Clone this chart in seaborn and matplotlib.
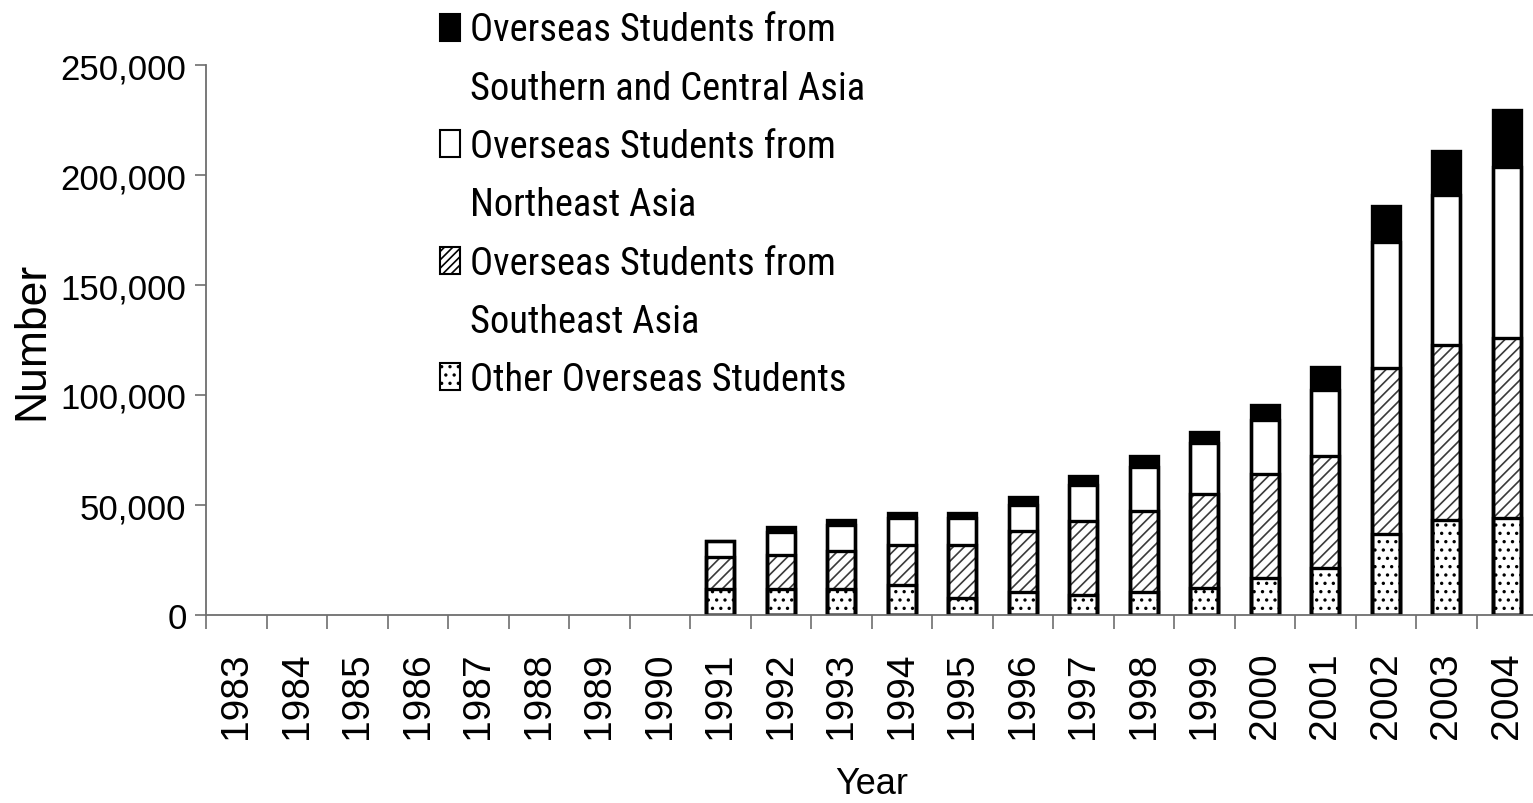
import matplotlib
matplotlib.use("Agg")
import matplotlib.pyplot as plt
from matplotlib import font_manager
from matplotlib.font_manager import FontProperties
from matplotlib.patches import Patch
from matplotlib.ticker import FuncFormatter, FixedLocator
import numpy as np
import seaborn as sns

# Years on the category axis (no data before 1991)
years = [str(y) for y in range(1983, 2005)]
data_years = [str(y) for y in range(1991, 2005)]

# Overseas student numbers by region of origin, 1991-2004
other = [11900, 11900, 11900, 13700, 7800, 10500, 9100, 10500, 12300, 16900, 21400, 37000, 43300, 44300]
southeast = [14600, 15500, 17300, 18200, 24100, 27800, 33800, 36900, 42900, 47000, 51100, 75200, 79400, 81600]
northeast = [7300, 10500, 11900, 12400, 12400, 11900, 16400, 20100, 22800, 24600, 29700, 57500, 68400, 77600]
south_central = [0, 2200, 2200, 2200, 2200, 3600, 4100, 5000, 5000, 6800, 10500, 16400, 19700, 26000]

labels = [
    "Overseas Students from\nSouthern and Central Asia",
    "Overseas Students from\nNortheast Asia",
    "Overseas Students from\nSoutheast Asia",
    "Other Overseas Students",
]

sns.set_style("white")
installed = sorted({f.name for f in font_manager.fontManager.ttflist})
base_font = "Liberation Sans" if "Liberation Sans" in installed else "DejaVu Sans"
preferred = ["Liberation Sans Narrow", "Arial Narrow", "Roboto Condensed",
             "Noto Sans Condensed", "Open Sans Condensed"]
narrow = [n for n in preferred if n in installed]
if not narrow:
    narrow = [n for n in installed if "Narrow" in n or n.endswith(" Condensed")]
legend_font = narrow[0] if narrow else base_font

plt.rcParams["font.family"] = [base_font, "DejaVu Sans"]
plt.rcParams["text.color"] = "black"
plt.rcParams["axes.labelcolor"] = "black"
plt.rcParams["hatch.linewidth"] = 1.2

W, H, DPI = 1533, 804, 100
fig = plt.figure(figsize=(W / DPI, H / DPI), dpi=DPI)
ax = fig.add_axes([206 / W, 188 / H, 1331 / W, 550 / H])

# Stack cumulative heights
c1 = np.array(other)
c2 = c1 + np.array(southeast)
c3 = c2 + np.array(northeast)
c4 = c3 + np.array(south_central)

bar_w = 0.46
layers = [
    (c4, "black", None, "black"),
    (c3, "white", None, "white"),
    (c2, "white", "///", "#3a3a3a"),
    (c1, "white", "..", "black"),
]
for vals, face, hatch, hcol in layers:
    sns.barplot(x=data_years, y=vals, order=years, color=face, saturation=1,
                width=bar_w, errorbar=None, ax=ax, linewidth=0,
                edgecolor=hcol, hatch=hatch)

# Segment outlines
for vals in (c4, c3, c2, c1):
    sns.barplot(x=data_years, y=vals, order=years, color="black", saturation=1,
                width=bar_w, errorbar=None, ax=ax, fill=False, linewidth=2.4)

ax.set_xlim(-0.5, len(years) - 0.5)
ax.set_ylim(0, 250000)
ax.set_yticks(np.arange(0, 250001, 50000))
ax.yaxis.set_major_formatter(FuncFormatter(lambda v, p: f"{int(v):,}"))

for s in ("top", "right"):
    ax.spines[s].set_visible(False)
for s in ("left", "bottom"):
    ax.spines[s].set_color("#6e6e6e")
    ax.spines[s].set_linewidth(1.3)

ax.tick_params(axis="y", which="major", direction="out", length=8, width=1.2,
               color="#6e6e6e", labelcolor="black", labelsize=25, pad=6, left=True)
ax.set_xticks(range(len(years)))
ax.set_xticklabels(years, rotation=90, fontsize=28)
ax.tick_params(axis="x", which="major", length=0, pad=26, labelcolor="black")
ax.xaxis.set_minor_locator(FixedLocator(np.arange(-0.5, len(years), 1.0)))
ax.tick_params(axis="x", which="minor", direction="out", length=10, width=1.2,
               color="#6e6e6e", bottom=True)

ax.set_xlabel("Year", fontsize=26, labelpad=20)
ax.set_ylabel("Number", fontsize=32, labelpad=6)

# Legend with the second line of each wrapped label as its own row
handles = []
texts = []
styles = [("black", None), ("white", None), ("white", "////"), ("white", "..")]
blank = Patch(facecolor="none", edgecolor="none")
for (face, hatch), lab in zip(styles, labels):
    parts = lab.split("\n")
    handles.append(Patch(facecolor=face, edgecolor="black", hatch=hatch, linewidth=1.5))
    texts.append(parts[0])
    for extra in parts[1:]:
        handles.append(blank)
        texts.append(extra)

# Size the legend font so the first label line is about 366 px wide
renderer = fig.canvas.get_renderer()
w100, _, _ = renderer.get_text_width_height_descent(
    texts[0], FontProperties(family=legend_font, size=100), ismath=False)
leg_size = min(32.0, 100 * 366 / w100)
fs_px = leg_size * DPI / 72

target_pitch = 58.3      # px between legend rows
target_left = 470        # px, left edge of legend text
target_first = 31        # px from top, centre of first legend row

def make_legend(spacing, anchor):
    return fig.legend(handles, texts, loc="upper left", bbox_to_anchor=anchor,
                      frameon=False, prop={"family": legend_font, "size": leg_size},
                      handlelength=20 / fs_px, handleheight=27 / fs_px,
                      handletextpad=10 / fs_px, labelspacing=spacing,
                      borderpad=0, borderaxespad=0)

spacing = 0.4
anchor = (440 / W, 1 - 10 / H)
leg = make_legend(spacing, anchor)
for _ in range(3):
    fig.canvas.draw()
    ext = [t.get_window_extent(renderer) for t in leg.get_texts()]
    centers = [(e.y0 + e.y1) / 2 for e in ext]
    pitch = (centers[0] - centers[-1]) / (len(centers) - 1)
    spacing = spacing + (target_pitch - pitch) / fs_px
    dx = target_left - ext[0].x0
    dy = (H - target_first) - centers[0]
    anchor = (anchor[0] + dx / W, anchor[1] + dy / H)
    leg.remove()
    leg = make_legend(spacing, anchor)

fig.savefig("out.png", dpi=DPI)
